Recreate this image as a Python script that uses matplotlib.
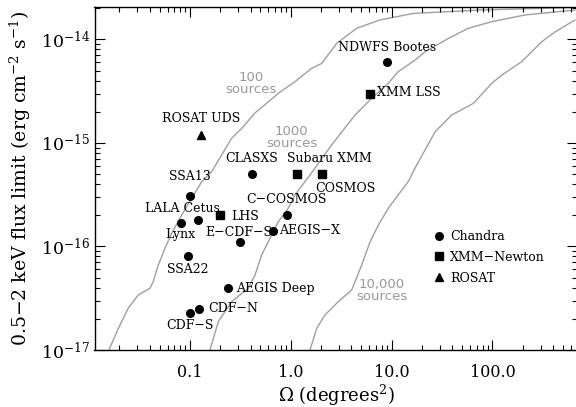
import matplotlib.pyplot as plt
import matplotlib.ticker as ticker
import numpy as np

plt.rcParams['font.family'] = ['DejaVu Serif']
plt.rcParams['mathtext.fontset'] = 'dejavuserif'

# survey curves: flux limit reached for a given number of sources
area_100 = [0.0157, 0.0195, 0.0244, 0.0307, 0.0401, 0.0432, 0.0485, 0.0565, 0.0658, 0.0827,
            0.104, 0.131, 0.164, 0.206, 0.259, 0.326, 0.442, 0.782, 1.10, 1.61, 2.03, 2.85,
            4.51, 7.67, 16.4, 75.3, 631]
flux_100 = [1.0e-17, 1.62e-17, 2.53e-17, 3.40e-17, 3.95e-17, 4.57e-17, 6.62e-17, 9.6e-17, 1.34e-16,
            2.01e-16, 2.92e-16, 4.22e-16, 5.27e-16, 7.64e-16, 1.11e-15, 1.38e-15, 1.95e-15, 3.10e-15,
            3.90e-15, 5.25e-15, 5.86e-15, 9.15e-15, 1.28e-14, 1.54e-14, 1.78e-14, 1.92e-14, 2.03e-14]

area_1000 = [0.158, 0.191, 0.259, 0.379, 0.442, 0.514, 0.622, 0.752, 0.944, 1.10, 1.38, 1.55,
             2.54, 4.34, 6.35, 9.28, 11.6, 17.1, 21.4, 36.5, 57.7, 98.4, 210, 659]
flux_1000 = [1.0e-17, 1.88e-17, 2.93e-17, 3.95e-17, 5.31e-17, 8.28e-17, 1.20e-16, 1.73e-16, 2.34e-16,
             3.14e-16, 4.22e-16, 4.90e-16, 9.55e-16, 1.86e-15, 2.70e-15, 3.76e-15, 4.87e-15, 6.31e-15,
             7.59e-15, 1.02e-14, 1.28e-14, 1.48e-14, 1.72e-14, 1.92e-14]

area_10000 = [1.55, 1.81, 2.18, 2.96, 4.02, 4.34, 5.05, 6.11, 7.39, 9.28, 11.6, 14.6, 17.1, 27.0,
              39.5, 64.7, 98.4, 124, 195, 308, 418, 659]
flux_10000 = [1.0e-17, 1.62e-17, 2.18e-17, 2.93e-17, 3.80e-17, 4.57e-17, 6.62e-17, 1.11e-16, 1.61e-16,
              2.34e-16, 3.14e-16, 4.22e-16, 5.73e-16, 1.28e-15, 1.86e-15, 2.41e-15, 3.76e-15, 4.52e-15,
              6.08e-15, 9.48e-15, 1.18e-14, 1.54e-14]

# surveys
chandra_names = ['NDWFS Bootes', 'CLASXS', 'SSA13', 'C\u2212COSMOS', 'LALA Cetus', 'Lynx', 'AEGIS\u2212X',
                 'E\u2212CDF\u2212S', 'SSA22', 'AEGIS Deep', 'CDF\u2212N', 'CDF\u2212S']
chandra_area = [9.0, 0.41, 0.10, 0.91, 0.121, 0.081, 0.67, 0.31, 0.095, 0.24, 0.122, 0.10]
chandra_flux = [6.0e-15, 5.0e-16, 3.1e-16, 2.0e-16, 1.8e-16, 1.7e-16, 1.4e-16, 1.1e-16, 8.0e-17,
                4.0e-17, 2.5e-17, 2.3e-17]

xmm_names = ['XMM LSS', 'Subaru XMM', 'COSMOS', 'LHS']
xmm_area = [6.1, 1.15, 2.03, 0.20]
xmm_flux = [3.0e-15, 5.0e-16, 5.0e-16, 2.0e-16]

rosat_names = ['ROSAT UDS']
rosat_area = [0.13]
rosat_flux = [1.2e-15]

xtick_vals = [0.1, 1, 10, 100]
xtick_labels = ['0.1', '1.0', '10.0', '100.0']
ytick_vals = [1e-17, 1e-16, 1e-15, 1e-14]

# label placement: (dx, dy) in points, horizontal alignment
label_pos = {
    'NDWFS Bootes': (0, 11, 'center'), 'CLASXS': (0, 11.3, 'center'), 'SSA13': (0, 13.4, 'center'),
    'C\u2212COSMOS': (0, 11.7, 'center'), 'LALA Cetus': (-11.4, 8.4, 'center'),
    'Lynx': (0, -8.6, 'center'), 'AEGIS\u2212X': (4.1, 0.7, 'left'), 'E\u2212CDF\u2212S': (-0.7, 6.9, 'center'),
    'SSA22': (0, -9.1, 'center'), 'AEGIS Deep': (5.3, -0.4, 'left'), 'CDF\u2212N': (6.9, 0, 'left'),
    'CDF\u2212S': (0, -9.1, 'center'), 'XMM LSS': (5.3, 0.4, 'left'), 'Subaru XMM': (23.3, 11.1, 'center'),
    'COSMOS': (16.8, -10.5, 'center'), 'LHS': (7.7, -0.7, 'left'), 'ROSAT UDS': (0, 11.5, 'center'),
}

fig = plt.figure(figsize=(5.76, 4.07), dpi=100)
ax = fig.add_axes([94.5 / 576, 57 / 407, 483 / 576, 342.7 / 407])

grey = '#a0a0a0'
for a, f in [(area_100, flux_100), (area_1000, flux_1000), (area_10000, flux_10000)]:
    ax.plot(a, f, color=grey, lw=1.0, zorder=1)

# gray labels of the curves
ax.text(0.403, 3.78e-15, '100\nsources', color='#999999', family='DejaVu Sans', fontsize=9.5,
        ha='center', va='center', linespacing=0.9)
ax.text(1.02, 1.14e-15, '1000\nsources', color='#999999', family='DejaVu Sans', fontsize=9.5,
        ha='center', va='center', linespacing=0.9)
ax.text(7.98, 3.74e-17, '10,000\nsources', color='#999999', family='DejaVu Sans', fontsize=9.5,
        ha='center', va='center', linespacing=0.9)

ax.plot(chandra_area, chandra_flux, 'o', color='black', ms=5.5, ls='none', label='Chandra', zorder=3)
ax.plot(xmm_area, xmm_flux, 's', color='black', ms=5.5, ls='none', label='XMM\u2212Newton', zorder=3)
ax.plot(rosat_area, rosat_flux, '^', color='black', ms=5.5, ls='none', label='ROSAT', zorder=3)

for names, xs, ys in [(chandra_names, chandra_area, chandra_flux), (xmm_names, xmm_area, xmm_flux),
                      (rosat_names, rosat_area, rosat_flux)]:
    for n, x, y in zip(names, xs, ys):
        dx, dy, ha = label_pos[n]
        ax.annotate(n, (x, y), xytext=(dx, dy), textcoords='offset points', ha=ha, va='center',
                    fontsize=9)

ax.set_xscale('log')
ax.set_yscale('log')
ax.set_xlim(0.0113, 698)
ax.set_ylim(1e-17, 2.04e-14)

ax.xaxis.set_major_locator(ticker.FixedLocator(xtick_vals))
ax.xaxis.set_major_formatter(ticker.FixedFormatter(xtick_labels))
ax.xaxis.set_minor_locator(ticker.LogLocator(base=10, subs=np.arange(2, 10)))
ax.xaxis.set_minor_formatter(ticker.NullFormatter())
ax.yaxis.set_major_locator(ticker.FixedLocator(ytick_vals))
ax.yaxis.set_major_formatter(ticker.LogFormatterSciNotation())
ax.yaxis.set_minor_locator(ticker.LogLocator(base=10, subs=np.arange(2, 10)))
ax.yaxis.set_minor_formatter(ticker.NullFormatter())

ax.tick_params(which='both', direction='in', top=True, right=True, width=0.8)
ax.tick_params(which='major', length=7.2)
ax.tick_params(which='minor', length=3.6)
ax.tick_params(axis='x', which='major', labelsize=11.5, pad=10)
ax.tick_params(axis='y', which='major', labelsize=12.5, pad=3)
for s in ax.spines.values():
    s.set_linewidth(1.0)

ax.set_xlabel('\u03a9 (degrees$^2$)', fontsize=13)
ax.set_ylabel('0.5\u22122 keV flux limit (erg cm$^{-2}$ s$^{-1}$)', fontsize=13.6)
ax.xaxis.set_label_coords(0.5, -0.096)
ax.yaxis.set_label_coords(-0.128, 0.5)

ax.legend(loc='upper left', bbox_to_anchor=(0.703, 0.35), frameon=False, fontsize=9,
          handlelength=0.8, handletextpad=0.5, labelspacing=0.62, borderpad=0, borderaxespad=0)

fig.savefig('out.png', dpi=100)
